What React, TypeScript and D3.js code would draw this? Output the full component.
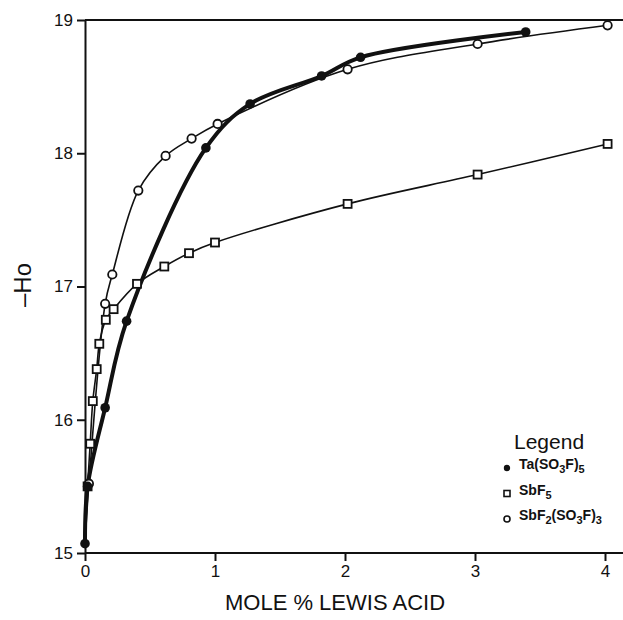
import React, { useEffect, useRef } from 'react';
import * as d3 from 'd3';

// mole % Lewis acid vs -Ho
const taX = [0, 0.02, 0.155, 0.32, 0.93, 1.27, 1.82, 2.12, 3.39];
const taY = [15.07, 15.5, 16.09, 16.74, 18.04, 18.37, 18.58, 18.72, 18.91];

const sbf5X = [0, 0.02, 0.04, 0.06, 0.09, 0.11, 0.16, 0.22, 0.4, 0.61, 0.8, 1.0, 2.02, 3.02, 4.02];
const sbf5Y = [15.07, 15.5, 15.82, 16.14, 16.38, 16.57, 16.75, 16.83, 17.02, 17.15, 17.25, 17.33, 17.62, 17.84, 18.07];

const sbf2X = [0, 0.03, 0.155, 0.21, 0.41, 0.62, 0.82, 1.02, 2.02, 3.02, 4.02];
const sbf2Y = [15.07, 15.52, 16.87, 17.09, 17.72, 17.98, 18.11, 18.22, 18.63, 18.82, 18.96];

const xTicks = [0, 1, 2, 3, 4];
const yTicks = [15, 16, 17, 18, 19];

const FONT = 'Liberation Sans, Arial, sans-serif';

const App = () => {
  const svgRef = useRef<SVGSVGElement>(null);

  useEffect(() => {
    const svg = d3.select(svgRef.current);
    svg.selectAll('*').remove();

    const width = 623;
    const height = 620;
    const margin = { top: 20, right: 18, bottom: 67, left: 85 };

    const x = d3.scaleLinear().domain([0, 4]).range([margin.left, width - margin.right]);
    const y = d3.scaleLinear().domain([15, 19]).range([height - margin.bottom, margin.top]);

    // frame: left axis, bottom axis, top line (no right side)
    svg.append('line')
      .attr('x1', x(0)).attr('x2', width)
      .attr('y1', y(19)).attr('y2', y(19))
      .attr('stroke', '#111').attr('stroke-width', 2.2);

    const xAxis = svg.append('g')
      .attr('transform', `translate(0,${y(15)})`)
      .call(d3.axisBottom(x).tickValues(xTicks).tickFormat(d3.format('d')).tickSize(8).tickPadding(4).tickSizeOuter(0));
    xAxis.select('.domain').attr('d', `M${x(0)},0H${width}`).attr('stroke', '#111').attr('stroke-width', 2);
    xAxis.selectAll('.tick line').attr('stroke', '#111').attr('stroke-width', 2);
    xAxis.selectAll('.tick text').attr('font-family', FONT).attr('font-size', 17).attr('fill', '#111');

    const yAxis = svg.append('g')
      .attr('transform', `translate(${x(0)},0)`)
      .call(d3.axisLeft(y).tickValues(yTicks).tickFormat(d3.format('d')).tickSize(8).tickPadding(4).tickSizeOuter(0));
    yAxis.select('.domain').attr('stroke', '#111').attr('stroke-width', 2);
    yAxis.selectAll('.tick line').attr('stroke', '#111').attr('stroke-width', 2);
    yAxis.selectAll('.tick text').attr('font-family', FONT).attr('font-size', 17).attr('fill', '#111');

    // axis titles
    svg.append('text')
      .attr('x', 335).attr('y', 610)
      .attr('text-anchor', 'middle')
      .attr('font-family', FONT).attr('font-size', 22)
      .attr('fill', '#111')
      .text('MOLE % LEWIS ACID');

    svg.append('text')
      .attr('transform', `translate(31,285) rotate(-90)`)
      .attr('text-anchor', 'middle')
      .attr('font-family', FONT).attr('font-size', 24)
      .attr('fill', '#111')
      .text('\u2013Ho');

    const line = d3.line<[number, number]>()
      .x(d => x(d[0]))
      .y(d => y(d[1]))
      .curve(d3.curveCatmullRom.alpha(0.5));

    const zip = (xs: number[], ys: number[]) => xs.map((v, i) => [v, ys[i]] as [number, number]);

    const ta = zip(taX, taY);
    const sbf5 = zip(sbf5X, sbf5Y);
    const sbf2 = zip(sbf2X, sbf2Y);

    svg.append('path').datum(sbf5).attr('d', line).attr('fill', 'none').attr('stroke', '#111').attr('stroke-width', 1.6);
    svg.append('path').datum(sbf2).attr('d', line).attr('fill', 'none').attr('stroke', '#111').attr('stroke-width', 1.6);
    svg.append('path').datum(ta).attr('d', line).attr('fill', 'none').attr('stroke', '#111').attr('stroke-width', 4);

    // markers
    svg.selectAll('.sq')
      .data(sbf5.slice(1))
      .enter()
      .append('rect')
      .attr('x', d => x(d[0]) - 4).attr('y', d => y(d[1]) - 4)
      .attr('width', 8).attr('height', 8)
      .attr('fill', 'white').attr('stroke', '#111').attr('stroke-width', 1.8);

    svg.selectAll('.oc')
      .data(sbf2.slice(1))
      .enter()
      .append('circle')
      .attr('cx', d => x(d[0])).attr('cy', d => y(d[1]))
      .attr('r', 4.2)
      .attr('fill', 'white').attr('stroke', '#111').attr('stroke-width', 1.8);

    svg.selectAll('.fc')
      .data(ta)
      .enter()
      .append('circle')
      .attr('cx', d => x(d[0])).attr('cy', d => y(d[1]))
      .attr('r', 4.8)
      .attr('fill', '#111');

    // legend
    const lg = svg.append('g').attr('font-family', FONT).attr('fill', '#111');
    lg.append('text').attr('x', 514).attr('y', 449).attr('font-size', 21).text('Legend');

    const items = [
      { parts: [['Ta(SO', 0], ['3', 1], ['F)', 0], ['5', 1]], kind: 'filled' },
      { parts: [['SbF', 0], ['5', 1]], kind: 'square' },
      { parts: [['SbF', 0], ['2', 1], ['(SO', 0], ['3', 1], ['F)', 0], ['3', 1]], kind: 'open' },
    ];
    items.forEach((it, i) => {
      const cy = 468 + i * 25.5;
      if (it.kind === 'filled') {
        lg.append('circle').attr('cx', 507).attr('cy', cy).attr('r', 3.2).attr('fill', '#111');
      } else if (it.kind === 'square') {
        lg.append('rect').attr('x', 504).attr('y', cy - 3).attr('width', 6).attr('height', 6)
          .attr('fill', 'white').attr('stroke', '#111').attr('stroke-width', 1.6);
      } else {
        lg.append('circle').attr('cx', 507).attr('cy', cy).attr('r', 3).attr('fill', 'white')
          .attr('stroke', '#111').attr('stroke-width', 1.6);
      }
      const t = lg.append('text').attr('x', 519).attr('y', cy + 5).attr('font-size', 14).attr('font-weight', 'bold');
      it.parts.forEach(([s, sub]) => {
        t.append('tspan')
          .attr('dy', sub ? 4 : (t.selectAll('tspan').size() > 0 ? -4 : 0))
          .attr('font-size', sub ? 11 : 14)
          .text(s as string);
      });
    });
  }, []);

  return (
    <svg ref={svgRef} width="623" height="620" style={{ position: 'absolute', left: 0, top: 0, background: 'white' }}>
    </svg>
  );
};

export default App;
